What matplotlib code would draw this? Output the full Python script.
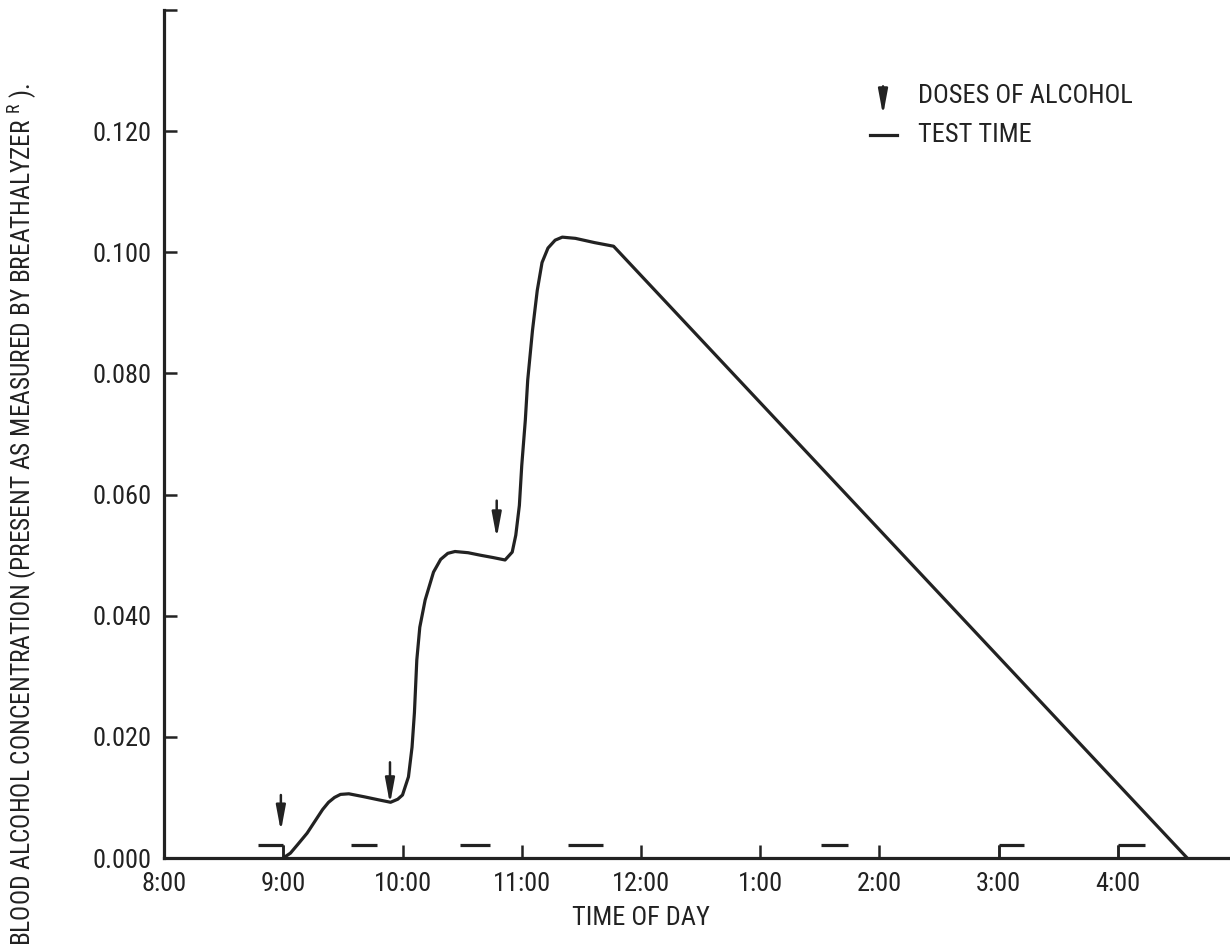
import matplotlib
matplotlib.use("Agg")
import matplotlib.pyplot as plt
from matplotlib import font_manager as fm

# ---------------- data ----------------
time_h = [9.00, 9.06, 9.12, 9.20, 9.27, 9.33, 9.38, 9.43, 9.48, 9.55, 9.68, 9.80,
          9.90, 9.96, 10.00, 10.05, 10.08, 10.10, 10.12, 10.145, 10.19, 10.26, 10.32,
          10.38, 10.44, 10.55, 10.65, 10.76, 10.86, 10.92, 10.95, 10.98, 11.00, 11.03,
          11.05, 11.09, 11.13, 11.17, 11.22, 11.28, 11.34, 11.45, 11.61, 11.77, 16.58]
bac = [0.0000, 0.0008, 0.0022, 0.0041, 0.0062, 0.0080, 0.0092, 0.0100, 0.0105, 0.0106,
       0.0101, 0.0096, 0.0092, 0.0097, 0.0104, 0.0134, 0.0183, 0.0240, 0.0327, 0.0381,
       0.0426, 0.0472, 0.0493, 0.0503, 0.0506, 0.0504, 0.0500, 0.0496, 0.0492, 0.0505,
       0.0533, 0.0582, 0.0648, 0.0723, 0.0789, 0.0871, 0.0937, 0.0983, 0.1007, 0.1020,
       0.1025, 0.1023, 0.1016, 0.1010, 0.0000]

dose_times = [8.98, 9.895, 10.79]
dose_tip = [0.0044, 0.0089, 0.0528]
dose_tail = [0.0104, 0.0158, 0.0590]

test_start = [8.79, 9.57, 10.48, 11.39, 13.51, 15.00, 16.00]
test_end = [9.00, 9.79, 10.73, 11.68, 13.74, 15.21, 16.23]
test_level = 0.0021
test_drops = [9.00, 15.00, 16.00]

x_ticks = [8, 9, 10, 11, 12, 13, 14, 15, 16]
x_labels = ["8:00", "9:00", "10:00", "11:00", "12:00", "1:00", "2:00", "3:00", "4:00"]
y_ticks = [0.000, 0.020, 0.040, 0.060, 0.080, 0.100, 0.120, 0.140]
y_labels = ["0.000", "0.020", "0.040", "0.060", "0.080", "0.100", "0.120", ""]

# ---------------- style ----------------
avail = {f.name for f in fm.fontManager.ttflist}
MAIN = "DejaVu Sans"
for cand in ["Liberation Sans Narrow", "Roboto Condensed", "DejaVu Sans Condensed",
             "Roboto", "Liberation Sans"]:
    if cand in avail:
        MAIN = cand
        break
plt.rcParams["font.family"] = [MAIN, "DejaVu Sans"]
plt.rcParams["mathtext.fontset"] = "custom"
plt.rcParams["mathtext.rm"] = MAIN
INK = "#222222"
LW = 2.3
FS = 19
ARROW = "-|>,head_length=1.5,head_width=0.28"

fig = plt.figure(figsize=(12.3, 9.48), dpi=100)
ax = fig.add_axes([164 / 1230, 1 - 858 / 948, 1 - 164 / 1230, 848 / 948])

ax.plot(time_h, bac, color=INK, lw=LW, solid_joinstyle="round", solid_capstyle="round",
        zorder=3)

# test time marks
ax.hlines([test_level] * len(test_start), test_start, test_end, color=INK, lw=LW)
ax.vlines(test_drops, 0, test_level, color=INK, lw=1.8)

# dose arrows
for t, tip, tail in zip(dose_times, dose_tip, dose_tail):
    ax.annotate("", xy=(t, tip), xytext=(t, tail),
                arrowprops=dict(arrowstyle=ARROW, color=INK, lw=1.8,
                                shrinkA=0, shrinkB=0))

ax.set_xlim(8, 8 + 1066 / 119.25)
ax.set_ylim(0, 0.140)
ax.set_xticks(x_ticks)
ax.set_xticklabels(x_labels)
ax.set_yticks(y_ticks)
ax.set_yticklabels(y_labels)
ax.tick_params(axis="both", direction="in", length=9.5, width=1.8, color=INK,
               labelsize=FS, labelcolor=INK)
ax.tick_params(axis="y", pad=9)
ax.tick_params(axis="x", pad=10)
for s in ["top", "right"]:
    ax.spines[s].set_visible(False)
for s in ["left", "bottom"]:
    ax.spines[s].set_linewidth(LW)
    ax.spines[s].set_color(INK)

ax.set_xlabel("TIME OF DAY", fontsize=FS, color=INK)
ax.xaxis.set_label_coords((641 - 164) / 1066, -0.0566)

ylab = fig.text(22 / 1230, 1 - 515 / 948,
                r"BLOOD ALCOHOL CONCENTRATION (PRESENT AS MEASURED BY BREATHALYZER $^{\mathrm{R}}$ ).",
                rotation=90, ha="center", va="center", fontsize=FS, color=INK)

# keep the y label to the reference length (~860 px)
fig.canvas.draw()
bb = ylab.get_window_extent()
if bb.height > 862:
    ylab.set_fontsize(FS * 862 / bb.height)

# legend
ax.annotate("", xy=(0.6745, 0.8760), xytext=(0.6745, 0.9100), xycoords="axes fraction",
            textcoords="axes fraction",
            arrowprops=dict(arrowstyle=ARROW, color=INK, lw=1.8, shrinkA=0, shrinkB=0))
ax.text(0.7073, 0.8986, "DOSES OF ALCOHOL", transform=ax.transAxes, va="center",
        ha="left", fontsize=FS, color=INK)
ax.plot([0.6623, 0.6876], [0.8526, 0.8526], transform=ax.transAxes, color=INK, lw=LW)
ax.text(0.7073, 0.8526, "TEST TIME", transform=ax.transAxes, va="center",
        ha="left", fontsize=FS, color=INK)

fig.savefig("out.png", dpi=100, facecolor="white")
